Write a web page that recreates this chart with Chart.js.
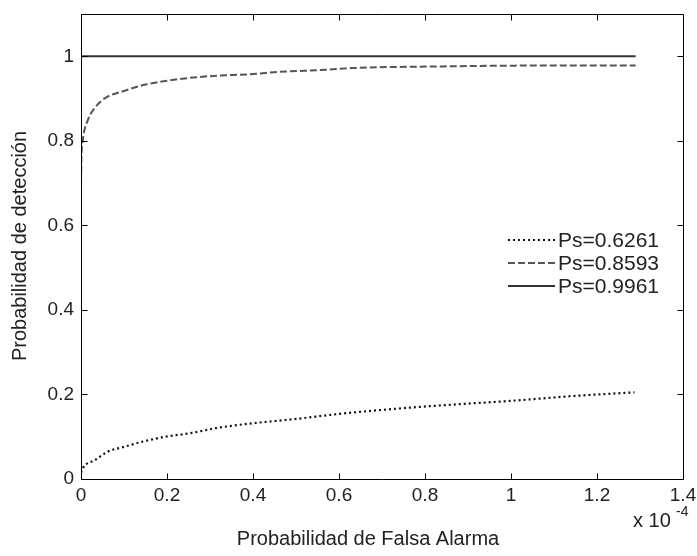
<!DOCTYPE html>
<html>
<head>
<meta charset="utf-8">
<script src="https://cdn.jsdelivr.net/npm/chart.js@4.4.1/dist/chart.umd.min.js"></script>
<style>
  html, body { margin: 0; padding: 0; background: #fff; }
  #wrap { width: 697px; height: 556px; }
</style>
</head>
<body>
<div id="wrap"><canvas id="c" width="697" height="556"></canvas></div>
<script>
// False-alarm probability in units of 1e-4, detection probability per Ps
const pfaLow = [0, 0.005, 0.033, 0.063, 0.10, 0.142, 0.196, 0.258, 0.312, 0.40, 0.49, 0.61, 0.78, 1.015, 1.14, 1.287];
const pdLow  = [0.015, 0.027, 0.045, 0.065, 0.076, 0.088, 0.100, 0.109, 0.120, 0.132, 0.141, 0.155, 0.170, 0.186, 0.196, 0.205];

const pfaMid = [0, 0.001, 0.004, 0.016, 0.033, 0.056, 0.10, 0.15, 0.22, 0.30, 0.40, 0.46, 0.57, 0.63, 0.84, 1.06, 1.29];
const pdMid  = [0.70, 0.76, 0.80, 0.849, 0.879, 0.901, 0.918, 0.933, 0.945, 0.953, 0.958, 0.963, 0.968, 0.972, 0.976, 0.978, 0.978];

const pfaHigh = [0, 1.29];
const pdHigh  = [1, 1];

const seriesLabels = ['Ps=0.6261', 'Ps=0.8593', 'Ps=0.9961'];
const xTickValues = [0, 0.2, 0.4, 0.6, 0.8, 1, 1.2, 1.4];
const yTickValues = [0, 0.2, 0.4, 0.6, 0.8, 1];

const xTitle = 'Probabilidad de Falsa Alarma';
const yTitle = 'Probabilidad de detección';

const FONT = '"Liberation Sans", Arial, Helvetica, sans-serif';

function zip(xs, ys) { return xs.map((x, i) => ({ x: x, y: ys[i] })); }

const styles = [
  { color: '#111', width: 2.2, dash: [2, 3] },
  { color: '#555', width: 2, dash: [7, 3] },
  { color: '#333', width: 2, dash: [] }
];

const datasets = [zip(pfaLow, pdLow), zip(pfaMid, pdMid), zip(pfaHigh, pdHigh)].map((d, i) => ({
  label: seriesLabels[i],
  data: d,
  borderColor: styles[i].color,
  borderWidth: styles[i].width,
  borderDash: styles[i].dash,
  pointRadius: 0,
  fill: false,
  cubicInterpolationMode: 'monotone'
}));

// Axes box with inward tick marks
const frame = {
  id: 'frame',
  afterDatasetsDraw(chart) {
    const ctx = chart.ctx;
    const xs = chart.scales.x, ys = chart.scales.y;
    const L = Math.round(xs.getPixelForValue(0)) + 0.5;
    const R = Math.round(xs.getPixelForValue(1.4)) + 0.5;
    const B = Math.round(ys.getPixelForValue(0)) + 0.5;
    const T = Math.round(ys.getPixelForValue(1.1)) + 0.5;
    const tl = 6;
    ctx.save();
    ctx.globalAlpha = 1;
    ctx.setLineDash([]);
    ctx.strokeStyle = '#000000';
    ctx.lineWidth = 1;
    ctx.beginPath();
    ctx.moveTo(L, T); ctx.lineTo(R, T); ctx.lineTo(R, B); ctx.lineTo(L, B); ctx.closePath();
    xTickValues.forEach(v => {
      const px = Math.round(xs.getPixelForValue(v)) + 0.5;
      ctx.moveTo(px, B); ctx.lineTo(px, B - tl);
      ctx.moveTo(px, T); ctx.lineTo(px, T + tl);
    });
    yTickValues.forEach(v => {
      const py = Math.round(ys.getPixelForValue(v)) + 0.5;
      ctx.moveTo(L, py); ctx.lineTo(L + tl, py);
      ctx.moveTo(R, py); ctx.lineTo(R - tl, py);
    });
    ctx.stroke();
    ctx.restore();
  }
};

// Legend and axis captions
const captions = {
  id: 'captions',
  afterDraw(chart) {
    const ctx = chart.ctx;
    ctx.save();
    const lx0 = 508, lx1 = 555, ly = [240, 263, 286];
    ctx.font = '21px ' + FONT;
    ctx.textBaseline = 'middle';
    ctx.textAlign = 'left';
    ctx.fillStyle = '#222';
    chart.data.datasets.forEach((ds, i) => {
      ctx.strokeStyle = ds.borderColor;
      ctx.lineWidth = ds.borderWidth;
      ctx.setLineDash(ds.borderDash);
      ctx.beginPath();
      ctx.moveTo(lx0, ly[i]); ctx.lineTo(lx1, ly[i]);
      ctx.stroke();
      ctx.fillText(ds.label, 558, ly[i] + 1);
    });
    ctx.setLineDash([]);

    ctx.font = '20px ' + FONT;
    ctx.textBaseline = 'alphabetic';
    ctx.fillText('x 10', 633, 527);
    ctx.font = '14px ' + FONT;
    ctx.fillText('-4', 676, 516);

    ctx.font = '20px ' + FONT;
    ctx.textAlign = 'center';
    ctx.textBaseline = 'middle';
    ctx.fillText(xTitle, 368, 539);
    ctx.translate(20, 246);
    ctx.rotate(-Math.PI / 2);
    ctx.fillText(yTitle, 0, 0);
    ctx.restore();
  }
};

const fmt = v => String(Number(v.toFixed(1)));

new Chart(document.getElementById('c'), {
  type: 'line',
  data: { datasets: datasets },
  options: {
    responsive: false,
    animation: false,
    devicePixelRatio: 1,
    layout: { padding: { top: 14, right: 14, left: 0, bottom: 0 } },
    plugins: { legend: { display: false }, tooltip: { enabled: false } },
    scales: {
      x: {
        type: 'linear', min: 0, max: 1.4,
        grid: { display: false }, border: { display: false },
        ticks: { stepSize: 0.2, padding: -3, color: '#222', maxRotation: 0,
                 font: { family: FONT, size: 19 }, callback: fmt },
        afterBuildTicks(s) { s.ticks = xTickValues.map(v => ({ value: v })); },
        afterFit(s) { s.height = 556 - 479; }
      },
      y: {
        type: 'linear', min: 0, max: 1.1,
        grid: { display: false }, border: { display: false },
        ticks: { stepSize: 0.2, padding: -1, color: '#222',
                 font: { family: FONT, size: 19 }, callback: fmt },
        afterBuildTicks(s) { s.ticks = yTickValues.map(v => ({ value: v })); },
        afterFit(s) { s.width = 81; }
      }
    }
  },
  plugins: [frame, captions]
});
</script>
</body>
</html>
